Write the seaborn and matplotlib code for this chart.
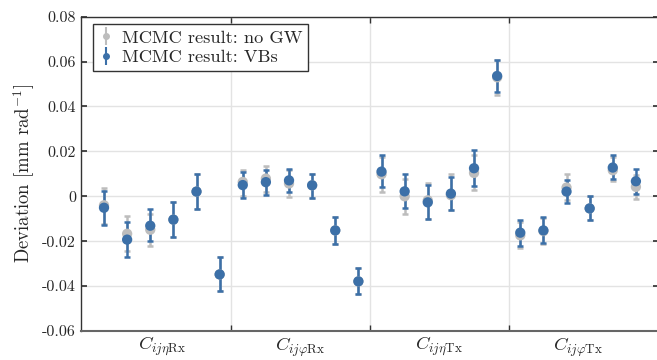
import numpy as np
import pandas as pd
import matplotlib
matplotlib.use("Agg")
import matplotlib.pyplot as plt
import seaborn as sns

groups = [r"$C_{ij\eta\mathrm{Rx}}$", r"$C_{ij\varphi\mathrm{Rx}}$",
          r"$C_{ij\eta\mathrm{Tx}}$", r"$C_{ij\varphi\mathrm{Tx}}$"]
yticks = [-0.06, -0.04, -0.02, 0, 0.02, 0.04, 0.06, 0.08]
ytick_labels = ["-0.06", "-0.04", "-0.02", "0", "0.02", "0.04", "0.06", "0.08"]

# MCMC result: VBs
vb_val = [-0.0051, -0.0193, -0.0131, -0.0104, 0.0021, -0.0348,
          0.0050, 0.0063, 0.0071, 0.0049, -0.0152, -0.0379,
          0.0110, 0.0022, -0.0027, 0.0012, 0.0125, 0.0536,
          -0.0162, -0.0152, 0.0021, -0.0054, 0.0128, 0.0067]
vb_hi = [0.0024, -0.0115, -0.0058, -0.0027, 0.0101, -0.0271,
         0.0106, 0.0116, 0.0122, 0.0101, -0.0092, -0.0318,
         0.0183, 0.0098, 0.0050, 0.0086, 0.0207, 0.0609,
         -0.0107, -0.0094, 0.0071, 0.0000, 0.0183, 0.0121]
vb_lo = [-0.0126, -0.0269, -0.0200, -0.0180, -0.0058, -0.0424,
         -0.0008, 0.0006, 0.0019, -0.0006, -0.0213, -0.0434,
         0.0040, -0.0052, -0.0103, -0.0063, 0.0045, 0.0466,
         -0.0220, -0.0207, -0.0030, -0.0107, 0.0075, 0.0012]

# MCMC result: no GW
ng_val = [-0.0040, -0.0167, -0.0149, -0.0104, 0.0021, -0.0348,
          0.0064, 0.0079, 0.0057, 0.0049, -0.0152, -0.0379,
          0.0098, 0.0000, -0.0018, 0.0005, 0.0104, 0.0530,
          -0.0174, -0.0155, 0.0039, -0.0054, 0.0116, 0.0042]
ng_hi = [0.0035, -0.0090, -0.0077, -0.0027, 0.0101, -0.0271,
         0.0116, 0.0137, 0.0116, 0.0101, -0.0092, -0.0318,
         0.0175, 0.0076, 0.0059, 0.0098, 0.0183, 0.0605,
         -0.0115, -0.0097, 0.0098, 0.0000, 0.0175, 0.0094]
ng_lo = [-0.0125, -0.0244, -0.0222, -0.0180, -0.0058, -0.0424,
         0.0000, 0.0020, -0.0003, -0.0006, -0.0213, -0.0434,
         0.0019, -0.0079, -0.0101, -0.0063, 0.0027, 0.0452,
         -0.0231, -0.0213, -0.0018, -0.0107, 0.0067, -0.0013]

BLUE = "#3c70a8"
GRAY = "#bdbdbd"

sns.set_theme(style="white")
plt.rcParams["font.family"] = ["cmr10", "DejaVu Serif"]
plt.rcParams["mathtext.fontset"] = "cm"
plt.rcParams["axes.unicode_minus"] = False

idx = np.arange(len(vb_val))
df = pd.DataFrame({
    "idx": np.concatenate([idx, idx]),
    "val": np.concatenate([ng_val, vb_val]),
    "series": ["MCMC result: no GW"] * len(idx) + ["MCMC result: VBs"] * len(idx),
})

fig = plt.figure(figsize=(6.57, 3.60), dpi=100)
ax = fig.add_axes([0.1231, 0.0806, 0.880, 0.873])

for vals, lo, hi, col in [(ng_val, ng_lo, ng_hi, GRAY), (vb_val, vb_lo, vb_hi, BLUE)]:
    v = np.array(vals)
    err = np.vstack([v - np.array(lo), np.array(hi) - v])
    ax.errorbar(idx, v, yerr=err, fmt="none", ecolor=col, elinewidth=1.8,
                capsize=2.3, capthick=1.8, zorder=3)

sns.scatterplot(data=df, x="idx", y="val", hue="series",
                palette={"MCMC result: no GW": GRAY, "MCMC result: VBs": BLUE},
                s=55, edgecolor="none", legend=False, ax=ax, zorder=4)

# legend proxies
h1 = ax.errorbar([], [], yerr=[], fmt="o", color=GRAY, ms=4, elinewidth=1.5, capsize=2, capthick=1.5)
h2 = ax.errorbar([], [], yerr=[], fmt="o", color=BLUE, ms=4, elinewidth=1.5, capsize=2, capthick=1.5)
leg = ax.legend([h1, h2], ["MCMC result: no GW", "MCMC result: VBs"], loc="upper left",
                bbox_to_anchor=(0.011, 0.993), fontsize=13.2, frameon=True, fancybox=False,
                handlelength=0.8, handletextpad=0.5, borderpad=0.3, labelspacing=0.2,
                borderaxespad=0.3)
leg.get_frame().set_edgecolor("#333333")
leg.get_frame().set_linewidth(1.0)
leg.get_frame().set_alpha(1)

ax.set_xlim(-1, 24)
ax.set_ylim(-0.06, 0.08)
ax.set_yticks(yticks)
ax.set_yticklabels(ytick_labels, fontsize=11.5)
ax.set_xticks([2.5, 8.5, 14.5, 20.5])
ax.set_xticklabels(groups, fontsize=13.5)
ax.set_xticks([5.5, 11.5, 17.5], minor=True)
ax.tick_params(axis="x", which="major", length=0, pad=3)
ax.tick_params(axis="x", which="minor", direction="in", length=4, top=True, bottom=True, color="#333333")
ax.tick_params(axis="y", which="major", direction="in", length=4, left=True, right=True, color="#333333")
ax.grid(True, axis="y", which="major", color="#e3e3e3", linewidth=1.0)
ax.grid(True, axis="x", which="minor", color="#e3e3e3", linewidth=1.0)
ax.set_axisbelow(True)
ax.set_xlabel("")
ax.set_ylabel(r"Deviation [mm rad$^{-1}$]", fontsize=13.5)
for s in ax.spines.values():
    s.set_color("#333333")
    s.set_linewidth(1.0)
ax.spines["bottom"].set_color("#666666")
ax.spines["bottom"].set_linewidth(1.5)

fig.savefig("out.png", dpi=100)
